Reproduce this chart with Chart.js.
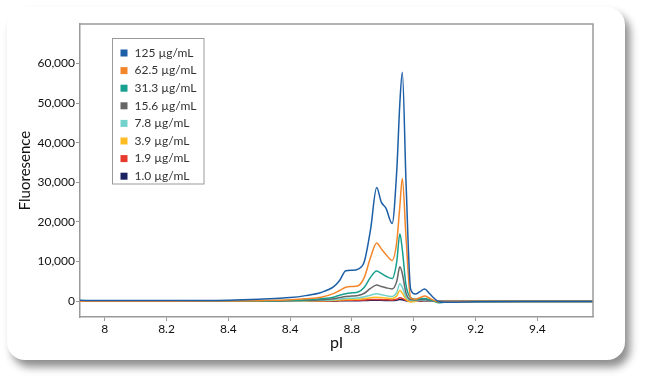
<!DOCTYPE html>
<html>
<head>
<meta charset="utf-8">
<script src="https://cdn.jsdelivr.net/npm/chart.js@4/dist/chart.umd.min.js"></script>
<style>
  html, body { margin: 0; padding: 0; background: #ffffff; width: 648px; height: 384px; overflow: hidden; }
  #card { position: absolute; left: 7px; top: 7px; width: 618px; height: 353px; background: #fff; border-radius: 18px;
          box-shadow: 5px 7px 8px rgba(0,0,0,0.45); }
  #c { position: absolute; left: 0; top: 0; }
</style>
</head>
<body>
<div id="card"></div>
<canvas id="c" width="648" height="384"></canvas>
<script>
// pI positions (shared x values for every series)
const pI = [7.92, 8.0, 8.2, 8.4, 8.5, 8.55, 8.6, 8.65, 8.7, 8.74, 8.76, 8.78, 8.8, 8.82, 8.84, 8.86, 8.88, 8.895, 8.91, 8.93, 8.945, 8.955, 8.963, 8.975, 8.99, 9.005, 9.02, 9.035, 9.05, 9.065, 9.08, 9.1, 9.2, 9.4, 9.58];

const seriesNames = ['125 µg/mL', '62.5 µg/mL', '31.3 µg/mL', '15.6 µg/mL', '7.8 µg/mL', '3.9 µg/mL', '1.9 µg/mL', '1.0 µg/mL'];
const seriesColors = ['#1d5fa6', '#f4862a', '#17a08f', '#666666', '#74d2cc', '#fdbd22', '#e8392e', '#1b2262'];

const c125  = [200,180,150,250,500,700,900,1400,2200,3600,5200,7700,7800,8100,10000,18000,28700,25000,23500,19600,33000,50000,57800,30000,3000,1800,2400,3100,2000,800,-100,-300,-150,-100,-100];
const c62_5 = [0,0,0,50,100,200,350,600,1000,1900,2700,3500,3700,3900,6000,11000,14700,13200,11800,10300,15000,24000,31000,16000,800,500,900,1300,800,200,-200,-200,-100,-100,-100];
const c31_3 = [0,0,0,0,50,100,200,350,600,1000,1500,1900,2100,2300,3500,6000,7600,7000,6300,5700,10000,17000,13000,4000,900,500,600,700,400,0,-400,-300,-100,-100,-100];
const c15_6 = [0,0,0,0,30,60,100,200,350,600,900,1200,1300,1450,2000,3200,4100,3700,3400,3100,5000,8700,7000,2000,400,300,350,400,200,0,-100,-100,-100,-100,-100];
const c7_8  = [0,0,0,0,20,40,60,100,200,350,500,700,750,800,1100,1500,1900,1600,1400,1200,2200,4400,3500,1000,200,150,200,250,100,0,-100,-100,-100,-100,-100];
const c3_9  = [0,0,0,0,10,20,40,70,120,200,300,400,450,500,650,850,1000,900,800,700,1300,2700,2000,500,-200,-100,300,600,300,0,-100,-100,-100,-100,-100];
const c1_9  = [0,0,0,0,0,10,20,40,60,100,150,200,220,250,300,400,450,400,350,300,500,850,700,200,0,50,100,150,50,0,-50,-50,-50,-50,-50];
const c1_0  = [0,0,0,0,0,5,10,20,30,50,80,100,110,120,150,200,230,200,180,150,250,450,350,100,0,20,50,80,30,0,-30,-30,-30,-30,-30];

const seriesValues = [c125, c62_5, c31_3, c15_6, c7_8, c3_9, c1_9, c1_0];

// x tick positions and the labels printed on the reference
const xTickValues = [8, 8.2, 8.4, 8.6, 8.8, 9, 9.2, 9.4];
const xTickLabels = ['8', '8.2', '8.4', '8.4', '8.8', '9', '9.2', '9.4'];
const yTickValues = [0, 10000, 20000, 30000, 40000, 50000, 60000];

const FONT = 'Lato, "Noto Sans", sans-serif';

const datasets = seriesNames.map((name, k) => ({
  label: name,
  data: pI.map((x, i) => ({ x: x, y: seriesValues[k][i] })),
  borderColor: seriesColors[k],
  backgroundColor: seriesColors[k],
  borderWidth: 1.5,
  pointRadius: 0,
  cubicInterpolationMode: 'monotone',
  fill: false
}));

const frameAndLegend = {
  id: 'frameAndLegend',
  afterDatasetsDraw(chart) {
    const ctx = chart.ctx;
    const a = chart.chartArea;
    ctx.save();
    // plot frame (top/right sides)
    ctx.strokeStyle = '#9a9a9a';
    ctx.lineWidth = 1.5;
    ctx.beginPath();
    ctx.moveTo(a.left, a.top);
    ctx.lineTo(a.right, a.top);
    ctx.lineTo(a.right, a.bottom);
    ctx.stroke();
    // legend box
    const bx = 112.5, by = 38.5, bw = 91.5, bh = 145.5;
    ctx.fillStyle = '#ffffff';
    ctx.fillRect(bx, by, bw, bh);
    ctx.strokeStyle = '#9a9a9a';
    ctx.lineWidth = 1;
    ctx.strokeRect(bx, by, bw, bh);
    ctx.font = '12px ' + FONT;
    ctx.textBaseline = 'middle';
    ctx.textAlign = 'left';
    chart.data.datasets.forEach((ds, i) => {
      const cy = 53 + i * 17.6;
      ctx.fillStyle = ds.borderColor;
      ctx.fillRect(120.5, cy - 3.5, 7, 7);
      ctx.fillStyle = '#333333';
      ctx.fillText(ds.label, 134.5, cy);
    });
    ctx.restore();
  }
};

new Chart(document.getElementById('c'), {
  type: 'line',
  data: { datasets: datasets },
  plugins: [frameAndLegend],
  options: {
    responsive: false,
    animation: false,
    events: [],
    layout: { padding: { left: 12, top: 24, right: 55, bottom: 32 } },
    plugins: { legend: { display: false }, tooltip: { enabled: false } },
    scales: {
      x: {
        type: 'linear',
        min: 7.92,
        max: 9.58,
        afterBuildTicks(scale) { scale.ticks = xTickValues.map(v => ({ value: v })); },
        afterFit(scale) { scale.height = 35; },
        grid: { drawOnChartArea: false, drawTicks: true, tickLength: 4, color: '#9a9a9a', lineWidth: 1 },
        border: { color: '#9a9a9a', width: 1.5 },
        ticks: {
          padding: 1,
          color: '#111',
          font: { family: FONT, size: 12 },
          maxRotation: 0,
          callback(value) {
            const idx = xTickValues.findIndex(t => Math.abs(t - value) < 1e-6);
            return idx >= 0 ? xTickLabels[idx] : '';
          }
        },
        title: { display: true, text: 'pI', color: '#111', font: { family: FONT, size: 16 }, padding: { top: 0, bottom: 0 } }
      },
      y: {
        min: -4000,
        max: 70000,
        afterBuildTicks(scale) { scale.ticks = yTickValues.map(v => ({ value: v })); },
        afterFit(scale) { scale.width = 68; },
        grid: { drawOnChartArea: false, drawTicks: true, tickLength: 4, color: '#9a9a9a', lineWidth: 1 },
        border: { color: '#9a9a9a', width: 1.5 },
        ticks: {
          padding: 1,
          color: '#111',
          font: { family: FONT, size: 12 },
          callback(value) { return Number(value).toLocaleString('en-US'); }
        },
        title: { display: true, text: 'Fluoresence', color: '#111', font: { family: FONT, size: 15 }, padding: { top: 4, bottom: 0 } }
      }
    }
  }
});
</script>
</body>
</html>
